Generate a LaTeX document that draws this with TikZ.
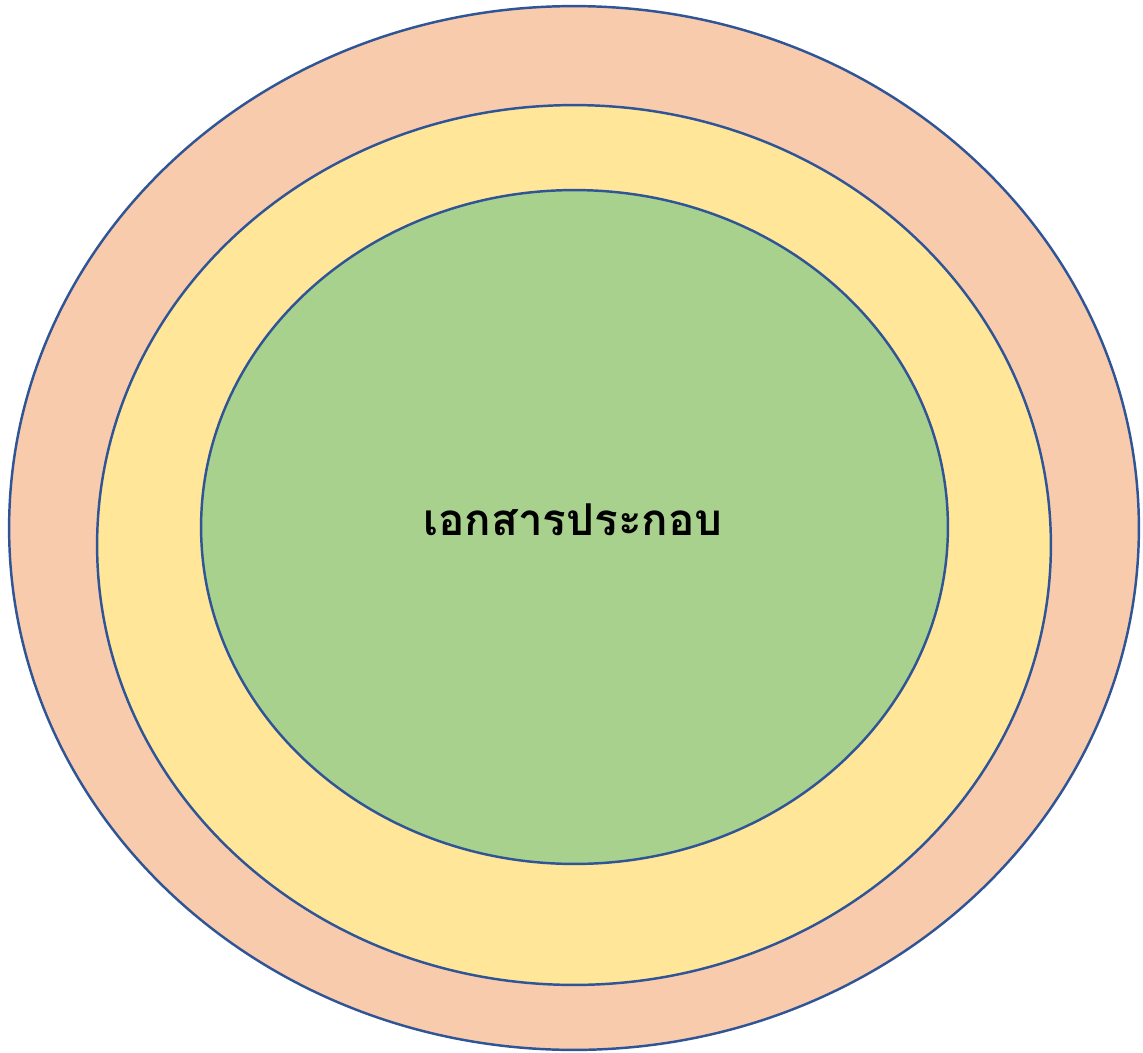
\documentclass[tikz,border=0pt]{standalone}
\usepackage{fontspec}
\newfontfamily\thaifont[Script=Thai]{Loma}
\usetikzlibrary{shapes.geometric}
\definecolor{RingLine}{HTML}{2F5597}
\definecolor{OuterFill}{HTML}{F8CBAD}
\definecolor{MiddleFill}{HTML}{FFE699}
\definecolor{InnerFill}{HTML}{A9D18E}
\begin{document}
\begin{tikzpicture}[
        x=0.02cm, y=-0.02cm,
        ring/.style={
            ellipse,
            draw=RingLine,
            line width=1.4pt,
            inner sep=0pt
        }
    ]
    \useasboundingbox (0,0) rectangle (1143,1052);
    \node[ring, fill=OuterFill, minimum width=22.6cm, minimum height=20.88cm] (outer) at (574,528) {};
    \node[ring, fill=MiddleFill, minimum width=19.08cm, minimum height=17.6cm] (middle) at (574,545) {};
    \node[ring, fill=InnerFill, minimum width=14.94cm, minimum height=13.48cm] (inner) at (574.5,527) {};
    \node[font=\thaifont\bfseries\fontsize{25}{30}\selectfont] (label) at (573,520) {เอกสารประกอบ};
\end{tikzpicture}
\end{document}
